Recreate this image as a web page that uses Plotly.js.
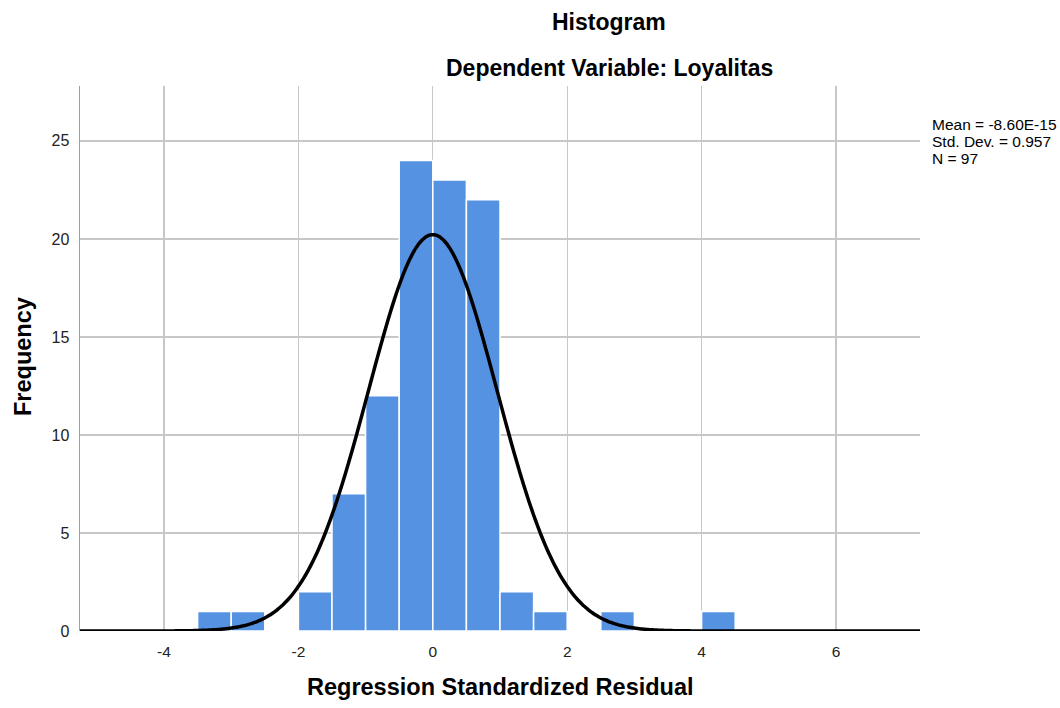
<!DOCTYPE html>
<html>
<head>
<meta charset="utf-8">
<script src="https://cdn.plot.ly/plotly-3.0.1.min.js"></script>
<style>html,body{margin:0;padding:0;background:#fff}#chart{width:1060px;height:708px}</style>
</head>
<body>
<div id="chart"></div>
<script>
// Histogram bins (left edge, width 0.5) and frequencies
const binStarts = [-3.5, -3.0, -2.0, -1.5, -1.0, -0.5, 0.0, 0.5, 1.0, 1.5, 2.5, 4.0];
const counts    = [1, 1, 2, 7, 12, 24, 23, 22, 2, 1, 1, 1];
const binWidth = 0.5;
// Summary statistics shown on the chart
const meanVal = -8.60e-15;
const sdVal = 0.957;
const nVal = 97;
const statLines = ['Mean = -8.60E-15', 'Std. Dev. = 0.957', 'N = 97'];
const xTicks = [-4, -2, 0, 2, 4, 6];
const yTicks = [0, 5, 10, 15, 20, 25];

const centers = binStarts.map(b => b + binWidth / 2);

// Fitted normal curve from the stated mean, sd and N
const curveX = [], curveY = [];
for (let i = 0; i <= 500; i++) {
  const x = -5.25 + i * (12.5 / 500);
  const z = (x - meanVal) / sdVal;
  curveX.push(x);
  curveY.push(nVal * binWidth / (sdVal * Math.sqrt(2 * Math.PI)) * Math.exp(-0.5 * z * z));
}

const data = [
  {type: 'bar', x: centers, y: counts, width: binWidth,
   marker: {color: '#5593e2', line: {color: '#ffffff', width: 1.5}},
   hoverinfo: 'x+y', showlegend: false},
  {type: 'scatter', mode: 'lines', x: curveX, y: curveY,
   line: {color: '#000000', width: 3.5, shape: 'spline'}, showlegend: false, hoverinfo: 'skip', cliponaxis: false}
];

// pixel helpers for the plot area (l=80, r=140, t=86, b=77)
const PL = 80, PW = 840, PT = 86, PH = 545;
const px = v => (v - PL) / PW;
const py = v => (PT + PH - v) / PH;

const annotations = [
  {xref: 'paper', yref: 'paper', x: px(609), y: py(22), text: '<b>Histogram</b>',
   showarrow: false, font: {size: 23, color: '#000'}, xanchor: 'center', yanchor: 'middle'},
  {xref: 'paper', yref: 'paper', x: px(609), y: py(68), text: '<b>Dependent Variable: Loyalitas</b>',
   showarrow: false, font: {size: 23, color: '#000'}, xanchor: 'center', yanchor: 'middle'},
  {xref: 'paper', yref: 'paper', x: px(500), y: py(687), text: '<b>Regression Standardized Residual</b>',
   showarrow: false, font: {size: 23.5, color: '#000'}, xanchor: 'center', yanchor: 'middle'},
  {xref: 'paper', yref: 'paper', x: px(23), y: py(357), text: '<b>Frequency</b>', textangle: -90,
   showarrow: false, font: {size: 23.5, color: '#000'}, xanchor: 'center', yanchor: 'middle'}
];
const statY = [125, 141.5, 158];
statLines.forEach((t, i) => annotations.push({
  xref: 'paper', yref: 'paper', x: px(930), y: py(statY[i]), text: t, showarrow: false,
  xanchor: 'left', yanchor: 'middle', font: {size: 15.5, color: '#000'}
}));

const layout = {
  width: 1060, height: 708,
  margin: {l: PL, r: 140, t: PT, b: 77},
  paper_bgcolor: '#ffffff', plot_bgcolor: '#ffffff',
  font: {family: 'Liberation Sans, Arial, sans-serif', color: '#222'},
  bargap: 0,
  xaxis: {
    range: [-5.25, 7.25], tickvals: xTicks, ticktext: xTicks.map(String),
    showgrid: true, gridcolor: '#c8c8c8', gridwidth: 1.3, zeroline: false,
    showline: false, ticks: '', ticklabelstandoff: 9,
    tickfont: {size: 15.5, color: '#222'}
  },
  yaxis: {
    range: [0, 27.8], tickvals: yTicks, ticktext: yTicks.map(String),
    showgrid: true, gridcolor: '#c8c8c8', gridwidth: 1.3, zeroline: false,
    showline: true, linecolor: '#a0a0a0', linewidth: 1.5,
    ticks: '', ticklabelstandoff: 6,
    tickfont: {size: 16, color: '#222'}
  },
  annotations: annotations
};

Plotly.newPlot('chart', data, layout, {displayModeBar: false, staticPlot: true});
</script>
</body>
</html>
